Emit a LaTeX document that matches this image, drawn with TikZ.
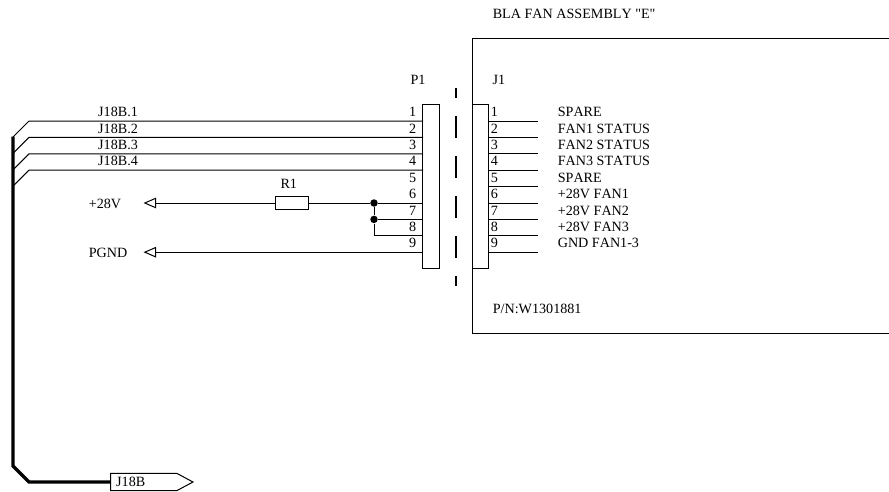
\documentclass[tikz,border=0pt]{standalone}
\usepackage{fontspec}
\setmainfont{Liberation Serif}[Ligatures=TeXOff,Kerning=Off]
\usetikzlibrary{arrows.meta}

\tikzset{
	txt/.style={anchor=base west,inner sep=0pt,font=\fontsize{10.6}{12}\selectfont},
	conn/.style={draw,line width=0.75pt,minimum width=12.4pt,minimum height=123.3pt,inner sep=0pt},
	res/.style={draw,line width=0.75pt,minimum width=24.75pt,minimum height=9.75pt,inner sep=0pt},
	opentip/.style={-{Triangle[open,length=9.5pt,width=8pt,line width=0.75pt]}},
	bus/.style={line width=2.6pt},
	dot/.style={circle,fill=black,inner sep=0pt,minimum size=5.6pt},
}

\begin{document}
\begin{tikzpicture}[x=0.75pt,y=-0.75pt,line width=0.75pt]

\useasboundingbox(0,0)rectangle(889,492);

% assembly outline
\draw(889,38.5)--(472.3,38.5)--(472.3,333.5)--(889,333.5);
\node[txt] (title) at (492.3,18.7) {BLA FAN ASSEMBLY "E"};
\node[txt] (pn) at (492.3,313.3) {P/N:W1301881};

% connectors
\node[conn] (P1) at (431.2,186.5) {};
\node[conn,fill=white] (J1) at (480.5,186.5) {};
\node[txt] (P1lbl) at (410,84.5) {P1};
\node[txt] (J1lbl) at (492,84.5) {J1};
\draw[line width=0.9pt,dash pattern=on 16.5pt off 13.5pt,dash phase=9pt](456,88)--(456,286);

% pins
\foreach \n/\y/\name in {1/121/SPARE,2/137.4/FAN1 STATUS,3/153.8/FAN2 STATUS,4/170.2/FAN3 STATUS,5/186.6/SPARE,6/203/+28V FAN1,7/219.4/+28V FAN2,8/235.8/+28V FAN3,9/252.2/GND FAN1-3}{
	\coordinate (p\n) at (423,\y);
	\coordinate (j\n) at (488.7,\y);
	\coordinate (e\n) at (537.7,\y);
	\draw(j\n)--(e\n);
	\node[txt,anchor=base] (pl\n) at (412.7,\y-4.3) {\n};
	\node[txt,anchor=base] (jl\n) at (494.3,\y-4.3) {\n};
	\node[txt] (nm\n) at (557.3,\y-4.3) {\name};
}

% harness wires
\foreach \n/\y in {1/121,2/137.4,3/153.8,4/170.2}{
	\coordinate (k\n) at (29,\y);
	\coordinate (b\n) at (13,\y+16);
	\draw(p\n)--(k\n)--(b\n);
	\node[txt] (w\n) at (97.7,\y-4.3) {J18B.\n};
}

% bus
\coordinate (bend1) at (13,466);
\coordinate (bend2) at (29,482);
\coordinate (bustop) at (13,136.5);
\coordinate (busend) at (110.5,482);
\draw[bus,line join=miter](bustop)--(bend1)--(bend2)--(busend);
\draw[fill=white](110.5,473.3)--(176.7,473.3)--(193,482)--(176.7,490.7)--(110.5,490.7)--cycle;
\node[txt] (J18B) at (115.7,486.7) {J18B};

% resistor and supply
\node[res] (R1) at (291.8,203) {};
\node[txt] (R1lbl) at (280,188) {R1};
\coordinate (a28) at (143.5,203);
\coordinate (agnd) at (143.5,252.2);
\node[txt] (v28) at (88.3,208) {+28V};
\node[txt] (pgnd) at (88.3,257.3) {PGND};
\draw[opentip](R1.west)--(a28);
\draw[opentip](p9)--(agnd);
\node[dot] (d1) at (374,203) {};
\node[dot] (d2) at (374,219.4) {};
\draw(R1.east)--(d1)--(p6);
\draw(d2)--(p7);
\draw(d1)--(d2)--(374,235.8)--(p8);

\end{tikzpicture}
\end{document}
